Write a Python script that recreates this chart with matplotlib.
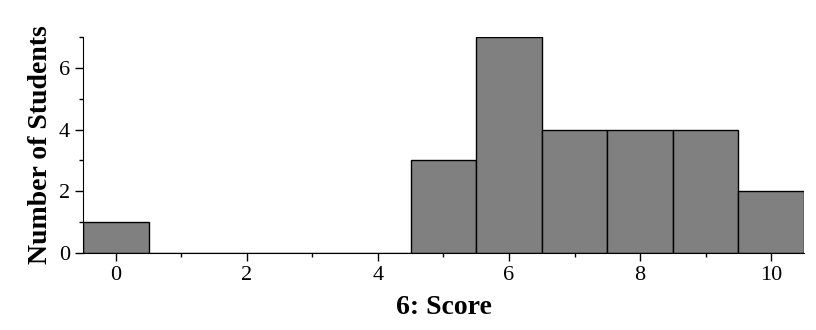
import matplotlib.pyplot as plt
from matplotlib.ticker import MultipleLocator

# Histogram counts per score
scores = [0, 1, 2, 3, 4, 5, 6, 7, 8, 9, 10]
students = [1, 0, 0, 0, 0, 3, 7, 4, 4, 4, 2]

plt.rcParams['font.family'] = ['Liberation Serif', 'DejaVu Serif']

fig = plt.figure(figsize=(8.16, 3.3), dpi=100)
ax = fig.add_axes([0.1017, 0.2333, 0.8836, 0.6546])

ax.bar(scores, students, width=1.0, color='#808080', edgecolor='black', linewidth=1.0)

ax.set_xlim(-0.5, 10.5)
ax.set_ylim(0, 7)
ax.xaxis.set_major_locator(MultipleLocator(2))
ax.xaxis.set_minor_locator(MultipleLocator(1))
ax.yaxis.set_major_locator(MultipleLocator(2))
ax.yaxis.set_minor_locator(MultipleLocator(1))
ax.tick_params(which='major', length=6, width=1, labelsize=16, direction='out')
ax.tick_params(which='minor', length=3, width=1, direction='out')

ax.spines['top'].set_visible(False)
ax.spines['right'].set_visible(False)

ax.set_xlabel("6: Score", fontsize=20, fontweight='bold', labelpad=7)
ax.set_ylabel("Number of Students", fontsize=20, fontweight='bold', labelpad=4)

fig.savefig("out.png", dpi=100)
